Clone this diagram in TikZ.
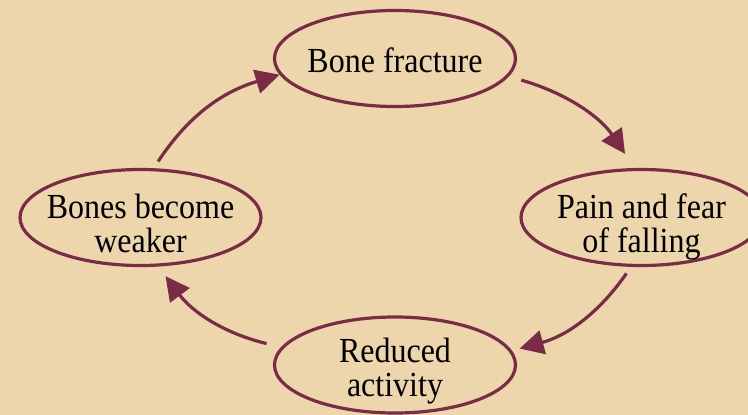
\documentclass[tikz,border=0pt]{standalone}
\usepackage{fontspec}
\setmainfont{Liberation Serif}
\usetikzlibrary{arrows.meta,shapes.geometric}
\definecolor{bgbeige}{RGB}{237,213,172}
\definecolor{cyclemaroon}{RGB}{122,43,71}
\newcommand\stagetext[2]{\raisebox{#1}[0pt][0pt]{\makebox[0pt]{\scalebox{1}[1.1]{\begin{tabular}{@{}c@{}}#2\end{tabular}}}}}
\begin{document}
\begin{tikzpicture}[x=1pt,y=-1pt,
  stage/.style={ellipse,draw=cyclemaroon,line width=3.2pt,minimum width=241pt,minimum height=96pt,
    inner sep=0pt,text=black,font=\fontsize{32}{30}\selectfont},
  cyc/.style={draw=cyclemaroon,line width=3.2pt,-{Triangle[length=24pt,width=24pt]},bend left=20}]
\fill[bgbeige] (0,0) rectangle (748,415);
\useasboundingbox (0,0) rectangle (748,415);
\node[stage] (T) at (395,58.5) {\stagetext{-13.5pt}{Bone fracture}};
\node[stage] (R) at (641.5,217.5) {\stagetext{-17.5pt}{Pain and fear\\of falling}};
\node[stage] (B) at (395,365) {\stagetext{-14pt}{Reduced\\activity}};
\node[stage] (L) at (140.5,217.5) {\stagetext{-17.5pt}{Bones become\\weaker}};
\draw[cyc,shorten <=8pt] (L.75) to (T.188);
\draw[cyc,shorten <=13pt,shorten >=17pt] (T.-9) to (R.98);
\draw[cyc,shorten <=8pt,shorten >=8pt] (R.258) to (B.7);
\draw[cyc,shorten <=15pt,shorten >=12pt] (B.171) to (L.-70);
\end{tikzpicture}
\end{document}
